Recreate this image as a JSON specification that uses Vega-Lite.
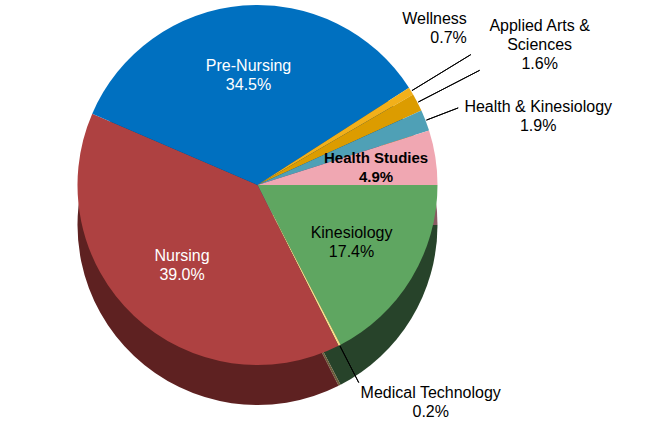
{
  "$schema": "https://vega.github.io/schema/vega-lite/v6.json",
  "width": 515,
  "height": 360,
  "autosize": {"type": "none"},
  "padding": {"left": 0, "top": 5, "right": 140, "bottom": 60},
  "background": "white",
  "config": {"view": {"stroke": null}, "font": "Liberation Sans"},
  "data": {
    "values": [
      {"category": "Kinesiology", "label": "Kinesiology\n17.4%", "value": 17.4, "order": 1},
      {"category": "Medical Technology", "label": "Medical Technology\n0.2%", "value": 0.2, "order": 2},
      {"category": "Nursing", "label": "Nursing\n39.0%", "value": 39.0, "order": 3},
      {"category": "Pre-Nursing", "label": "Pre-Nursing\n34.5%", "value": 34.5, "order": 4},
      {"category": "Wellness", "label": "Wellness\n0.7%", "value": 0.7, "order": 5},
      {"category": "Applied Arts & Sciences", "label": "Applied Arts &\nSciences\n1.6%", "value": 1.6, "order": 6},
      {"category": "Health & Kinesiology", "label": "Health & Kinesiology\n1.9%", "value": 1.9, "order": 7},
      {"category": "Health Studies", "label": "Health Studies\n4.9%", "value": 4.9, "order": 8}
    ]
  },
  "transform": [
    {"stack": "value", "groupby": [], "sort": [{"field": "order", "order": "ascending"}], "as": ["v0", "v1"]}
  ],
  "resolve": {"scale": {"color": "independent"}},
  "layer": [
    {
      "mark": {"type": "arc", "outerRadius": 180, "yOffset": 40},
      "encoding": {
        "theta": {"field": "v0", "type": "quantitative", "scale": {"domain": [0, 100.2], "range": [1.5708, 7.854]}},
        "theta2": {"field": "v1"},
        "color": {
          "field": "category", "type": "nominal", "legend": null,
          "scale": {
            "domain": ["Kinesiology", "Medical Technology", "Nursing", "Pre-Nursing", "Wellness", "Applied Arts & Sciences", "Health & Kinesiology", "Health Studies"],
            "range": ["#27432a", "#6b5d3a", "#5e2121", "#003c6e", "#8a6400", "#7e5800", "#2a5c6a", "#8a5a62"]
          }
        }
      }
    },
    {
      "mark": {"type": "arc", "outerRadius": 180},
      "encoding": {
        "theta": {"field": "v0", "type": "quantitative", "scale": {"domain": [0, 100.2], "range": [1.5708, 7.854]}},
        "theta2": {"field": "v1"},
        "color": {
          "field": "category", "type": "nominal", "legend": null,
          "scale": {
            "domain": ["Kinesiology", "Medical Technology", "Nursing", "Pre-Nursing", "Wellness", "Applied Arts & Sciences", "Health & Kinesiology", "Health Studies"],
            "range": ["#5fa661", "#f6dc8c", "#ae4141", "#0070c0", "#f2b01a", "#dc9c00", "#4fa0b6", "#f0a7b2"]
          }
        }
      }
    },
    {
      "transform": [
        {"fold": ["v0", "v1"], "as": ["k", "edge"]},
        {"aggregate": [{"op": "mean", "field": "edge", "as": "mid"}], "groupby": ["category", "label", "order"]}
      ],
      "layer": [
        {
          "transform": [{"filter": "datum.category === 'Wellness' || datum.category === 'Applied Arts & Sciences'"}],
          "mark": {"type": "arc", "radius2": 181, "radius": 250, "filled": false, "stroke": "#000000", "strokeWidth": 1},
          "encoding": {
            "theta": {"field": "mid", "type": "quantitative", "scale": {"domain": [0, 100.2], "range": [1.5708, 7.854]}},
            "theta2": {"field": "mid"}
          }
        },
        {
          "transform": [{"filter": "datum.category === 'Health & Kinesiology'"}],
          "mark": {"type": "arc", "radius2": 181, "radius": 215, "filled": false, "stroke": "#000000", "strokeWidth": 1},
          "encoding": {
            "theta": {"field": "mid", "type": "quantitative", "scale": {"domain": [0, 100.2], "range": [1.5708, 7.854]}},
            "theta2": {"field": "mid"}
          }
        },
        {
          "transform": [{"filter": "datum.category === 'Medical Technology'"}],
          "mark": {"type": "arc", "radius2": 181, "radius": 222, "filled": false, "stroke": "#000000", "strokeWidth": 1},
          "encoding": {
            "theta": {"field": "mid", "type": "quantitative", "scale": {"domain": [0, 100.2], "range": [1.5708, 7.854]}},
            "theta2": {"field": "mid"}
          }
        },
        {
          "transform": [{"filter": "datum.category === 'Pre-Nursing' || datum.category === 'Nursing' || datum.category === 'Kinesiology'"}],
          "mark": {"type": "text", "radius": 110, "dy": -9, "fontSize": 16, "lineBreak": "\n", "align": "center", "baseline": "middle", "lineHeight": 19},
          "encoding": {
            "theta": {"field": "mid", "type": "quantitative", "scale": {"domain": [0, 100.2], "range": [1.5708, 7.854]}},
            "text": {"field": "label"},
            "color": {"condition": {"test": "datum.category !== 'Kinesiology'", "value": "#ffffff"}, "value": "#000000"}
          }
        },
        {
          "transform": [{"filter": "datum.category === 'Health Studies'"}],
          "mark": {"type": "text", "radius": 120, "dy": -9, "fontSize": 15, "fontWeight": "bold", "lineBreak": "\n", "align": "center", "baseline": "middle", "lineHeight": 19, "color": "#000000"},
          "encoding": {
            "theta": {"field": "mid", "type": "quantitative", "scale": {"domain": [0, 100.2], "range": [1.5708, 7.854]}},
            "text": {"field": "label"}
          }
        },
        {
          "transform": [{"filter": "datum.category === 'Wellness'"}],
          "mark": {"type": "text", "radius": 250, "dx": -4, "dy": -44, "fontSize": 16, "lineBreak": "\n", "align": "right", "baseline": "top", "lineHeight": 19, "color": "#000000"},
          "encoding": {
            "theta": {"field": "mid", "type": "quantitative", "scale": {"domain": [0, 100.2], "range": [1.5708, 7.854]}},
            "text": {"field": "label"}
          }
        },
        {
          "transform": [{"filter": "datum.category === 'Applied Arts & Sciences'"}],
          "mark": {"type": "text", "radius": 250, "dx": 60, "dy": -52, "fontSize": 16, "lineBreak": "\n", "align": "center", "baseline": "top", "lineHeight": 19, "color": "#000000"},
          "encoding": {
            "theta": {"field": "mid", "type": "quantitative", "scale": {"domain": [0, 100.2], "range": [1.5708, 7.854]}},
            "text": {"field": "label"}
          }
        },
        {
          "transform": [{"filter": "datum.category === 'Health & Kinesiology'"}],
          "mark": {"type": "text", "radius": 215, "dx": 80, "dy": -9, "fontSize": 16, "lineBreak": "\n", "align": "center", "baseline": "top", "lineHeight": 19, "color": "#000000"},
          "encoding": {
            "theta": {"field": "mid", "type": "quantitative", "scale": {"domain": [0, 100.2], "range": [1.5708, 7.854]}},
            "text": {"field": "label"}
          }
        },
        {
          "transform": [{"filter": "datum.category === 'Medical Technology'"}],
          "mark": {"type": "text", "radius": 222, "dx": 72, "dy": 2, "fontSize": 16, "lineBreak": "\n", "align": "center", "baseline": "top", "lineHeight": 19, "color": "#000000"},
          "encoding": {
            "theta": {"field": "mid", "type": "quantitative", "scale": {"domain": [0, 100.2], "range": [1.5708, 7.854]}},
            "text": {"field": "label"}
          }
        }
      ]
    }
  ]
}
